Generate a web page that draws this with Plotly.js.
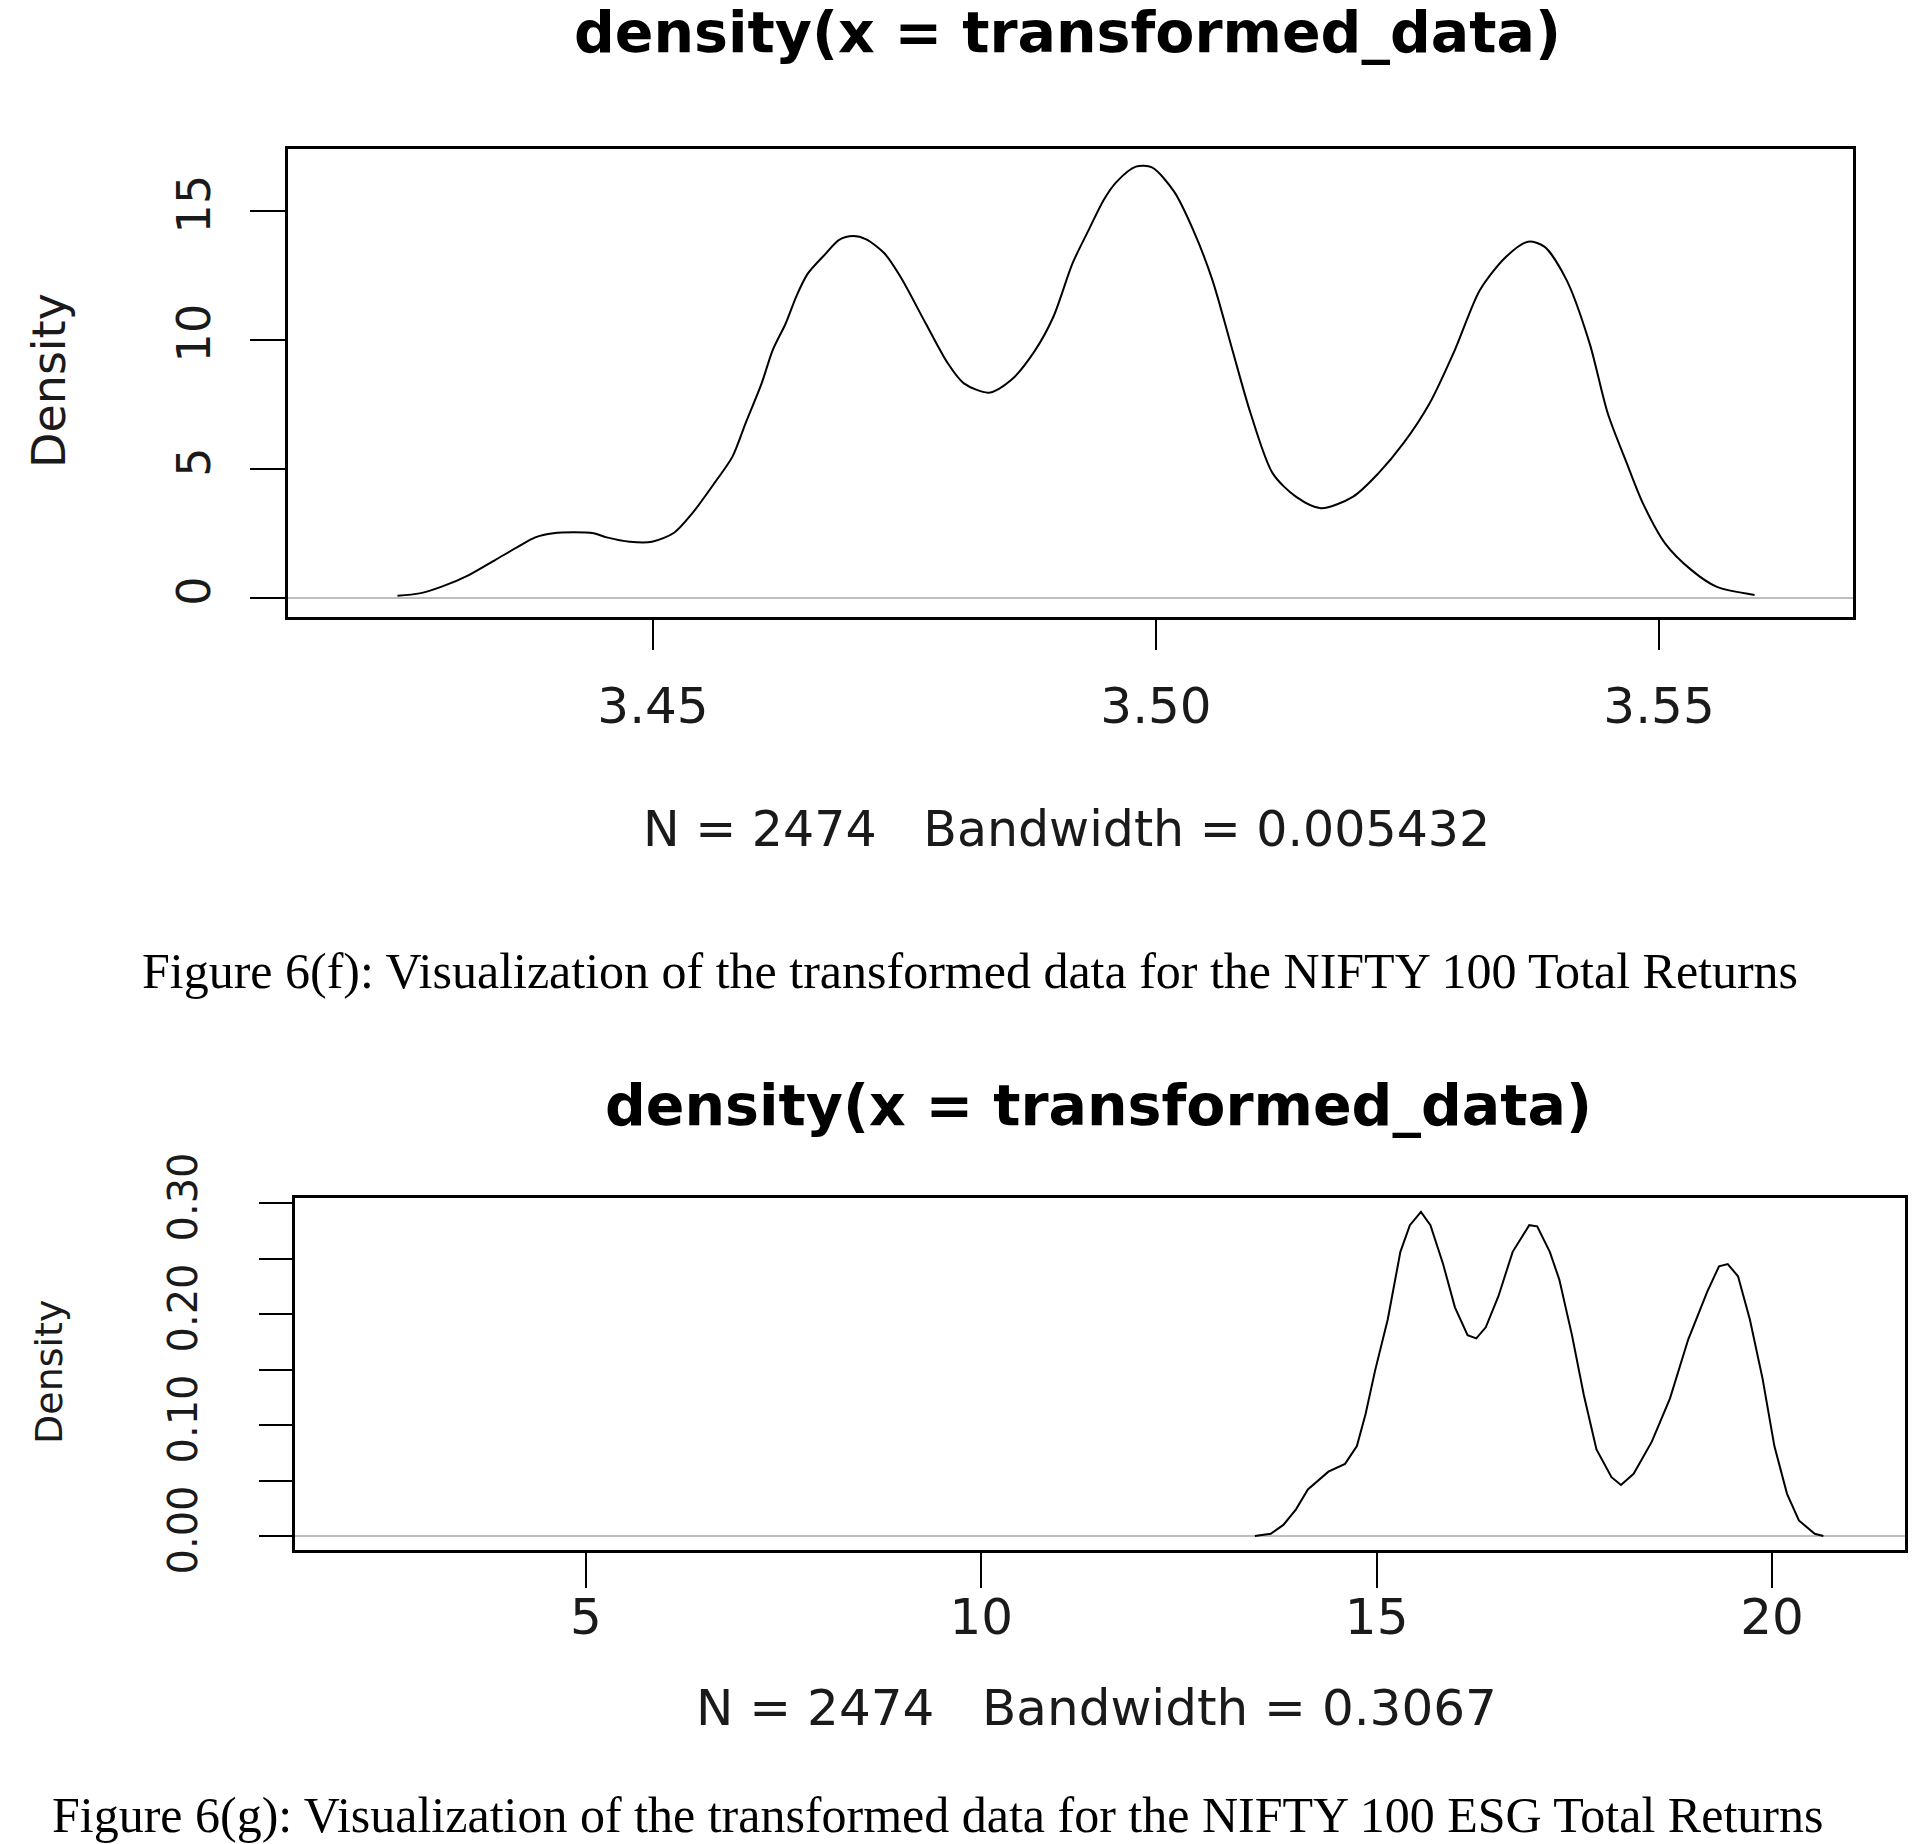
<!DOCTYPE html>
<html>
<head>
<meta charset="utf-8">
<script src="https://cdn.plot.ly/plotly-3.0.1.min.js"></script>
<style>html,body{margin:0;padding:0;background:#fff;}#chart{width:1926px;height:1844px;}</style>
</head>
<body>
<div id="chart"></div>
<script>
// ---- Data ----
const topX = [3.4246, 3.4268, 3.4290, 3.4317, 3.4343, 3.4366, 3.4383, 3.4401, 3.4421, 3.4441, 3.4454, 3.4477, 3.4499, 3.4521, 3.4539, 3.4561, 3.4579, 3.4592, 3.4608, 3.4619, 3.4632, 3.4643, 3.4654, 3.4672, 3.4685, 3.4699, 3.4712, 3.4730, 3.4746, 3.4771, 3.4793, 3.4809, 3.4834, 3.4856, 3.4879, 3.4898, 3.4917, 3.4933, 3.4948, 3.4961, 3.4980, 3.4996, 3.5018, 3.5037, 3.5056, 3.5075, 3.5094, 3.5116, 3.5139, 3.5164, 3.5196, 3.5221, 3.5246, 3.5272, 3.5297, 3.5322, 3.5348, 3.5370, 3.5386, 3.5408, 3.5431, 3.5449, 3.5468, 3.5484, 3.5506, 3.5532, 3.5557, 3.5595];
const topY = [0.09, 0.18, 0.44, 0.89, 1.47, 1.99, 2.35, 2.51, 2.55, 2.51, 2.35, 2.18, 2.18, 2.53, 3.28, 4.45, 5.48, 6.77, 8.32, 9.61, 10.65, 11.74, 12.58, 13.36, 13.88, 14.03, 13.90, 13.36, 12.45, 10.65, 9.10, 8.32, 7.96, 8.45, 9.55, 10.90, 12.97, 14.26, 15.43, 16.14, 16.72, 16.69, 15.75, 14.26, 12.33, 9.74, 7.16, 4.83, 3.93, 3.48, 3.93, 4.83, 6.00, 7.55, 9.61, 11.94, 13.23, 13.81, 13.62, 12.33, 9.87, 7.16, 5.22, 3.67, 2.12, 1.09, 0.44, 0.12];

const botX = [13.46, 13.66, 13.82, 13.98, 14.13, 14.24, 14.39, 14.60, 14.75, 14.86, 14.98, 15.14, 15.30, 15.42, 15.56, 15.68, 15.84, 15.99, 16.15, 16.26, 16.38, 16.54, 16.72, 16.93, 17.03, 17.19, 17.31, 17.47, 17.62, 17.78, 17.97, 18.09, 18.25, 18.48, 18.71, 18.94, 19.18, 19.33, 19.44, 19.57, 19.72, 19.88, 20.03, 20.19, 20.34, 20.54, 20.65];
const botY = [0, 0.002, 0.010, 0.024, 0.042, 0.049, 0.058, 0.065, 0.081, 0.110, 0.149, 0.195, 0.256, 0.280, 0.292, 0.280, 0.245, 0.206, 0.181, 0.178, 0.188, 0.216, 0.256, 0.280, 0.279, 0.256, 0.231, 0.181, 0.127, 0.078, 0.053, 0.046, 0.056, 0.085, 0.124, 0.177, 0.220, 0.243, 0.245, 0.234, 0.195, 0.142, 0.081, 0.038, 0.014, 0.002, 0];

const topXTicks = [3.45, 3.50, 3.55];
const topXTickText = ["3.45", "3.50", "3.55"];
const topYTicks = [0, 5, 10, 15];
const topYTickText = ["0", "5", "10", "15"];
const botXTicks = [5, 10, 15, 20];
const botXTickText = ["5", "10", "15", "20"];
const botYTicks = [0, 0.05, 0.10, 0.15, 0.20, 0.25, 0.30];
const botYTickText = ["0.00", "", "0.10", "", "0.20", "", "0.30"];

const mainTitle = "density(x = transformed_data)";
const topSub = "N = 2474\u00A0\u00A0\u00A0Bandwidth = 0.005432";
const botSub = "N = 2474\u00A0\u00A0\u00A0Bandwidth = 0.3067";
const topCaption = "Figure 6(f): Visualization of the transformed data for the NIFTY 100 Total Returns";
const botCaption = "Figure 6(g): Visualization of the transformed data for the NIFTY 100 ESG Total Returns";
const yLabel = "Density";

// ---- Layout helpers ----
const W = 1926, H = 1844;
const px = v => v / W;
const py = v => 1 - v / H;
const SANS = "DejaVu Sans, Liberation Sans, Arial, sans-serif";
const SERIF = "Liberation Serif, Times New Roman, serif";
const TXT = "#1a1a1a";

function axisBase() {
  return {
    showline: true, mirror: true, linecolor: "#000", linewidth: 3,
    ticks: "outside", tickcolor: "#000", tickwidth: 2,
    showgrid: false, zeroline: false, fixedrange: true
  };
}

const traces = [
  { x: topX, y: topY, xaxis: "x", yaxis: "y", type: "scatter", mode: "lines",
    line: { color: "#000", width: 2, shape: "spline", smoothing: 0.8 }, hoverinfo: "skip" },
  { x: botX, y: botY, xaxis: "x2", yaxis: "y2", type: "scatter", mode: "lines",
    line: { color: "#000", width: 2 }, hoverinfo: "skip" }
];

const layout = {
  width: W, height: H,
  margin: { l: 0, r: 0, t: 0, b: 0 },
  paper_bgcolor: "#fff", plot_bgcolor: "#fff",
  showlegend: false,
  xaxis: Object.assign(axisBase(), {
    domain: [px(288), px(1853)], range: [3.41372, 3.56928], anchor: "y",
    tickvals: topXTicks, ticktext: topXTickText, ticklen: 30,
    tickfont: { family: SANS, size: 50, color: TXT }, ticklabelstandoff: 13
  }),
  yaxis: Object.assign(axisBase(), {
    domain: [py(617), py(149)], range: [-0.736, 17.403], anchor: "x",
    tickvals: topYTicks, ticktext: topYTickText, ticklen: 35, tickangle: -90,
    tickfont: { family: SANS, size: 46, color: TXT }, ticklabelstandoff: 22,
    zeroline: true, zerolinecolor: "#bebebe", zerolinewidth: 2
  }),
  xaxis2: Object.assign(axisBase(), {
    domain: [px(295), px(1905)], range: [1.320, 21.682], anchor: "y2",
    tickvals: botXTicks, ticktext: botXTickText, ticklen: 35,
    tickfont: { family: SANS, size: 50, color: TXT }, ticklabelstandoff: -14
  }),
  yaxis2: Object.assign(axisBase(), {
    domain: [py(1550), py(1198)], range: [-0.01261, 0.3045], anchor: "x2",
    tickvals: botYTicks, ticktext: botYTickText, ticklen: 33, tickangle: -90,
    tickfont: { family: SANS, size: 40, color: TXT }, ticklabelstandoff: 46,
    zeroline: true, zerolinecolor: "#bebebe", zerolinewidth: 2
  }),
  annotations: [
    { text: mainTitle, x: px(1067), y: py(32), xref: "paper", yref: "paper",
      xanchor: "center", yanchor: "middle", showarrow: false,
      font: { family: SANS, size: 57, color: "#000", weight: "bold" } },
    { text: yLabel, x: px(49), y: py(381), xref: "paper", yref: "paper", textangle: -90,
      xanchor: "center", yanchor: "middle", showarrow: false,
      font: { family: SANS, size: 46, color: TXT } },
    { text: topSub, x: px(1066), y: py(829), xref: "paper", yref: "paper",
      xanchor: "center", yanchor: "middle", showarrow: false,
      font: { family: SANS, size: 49, color: TXT } },
    { text: topCaption, x: px(970), y: py(971), xref: "paper", yref: "paper",
      xanchor: "center", yanchor: "middle", showarrow: false,
      font: { family: SERIF, size: 50, color: "#000" } },
    { text: mainTitle, x: px(1098), y: py(1105), xref: "paper", yref: "paper",
      xanchor: "center", yanchor: "middle", showarrow: false,
      font: { family: SANS, size: 57, color: "#000", weight: "bold" } },
    { text: yLabel, x: px(49), y: py(1372), xref: "paper", yref: "paper", textangle: -90,
      xanchor: "center", yanchor: "middle", showarrow: false,
      font: { family: SANS, size: 38, color: TXT } },
    { text: botSub, x: px(1096), y: py(1708), xref: "paper", yref: "paper",
      xanchor: "center", yanchor: "middle", showarrow: false,
      font: { family: SANS, size: 50, color: TXT } },
    { text: botCaption, x: px(937), y: py(1815), xref: "paper", yref: "paper",
      xanchor: "center", yanchor: "middle", showarrow: false,
      font: { family: SERIF, size: 50, color: "#000" } }
  ]
};

Plotly.newPlot("chart", traces, layout, { displayModeBar: false, staticPlot: true });
</script>
</body>
</html>
